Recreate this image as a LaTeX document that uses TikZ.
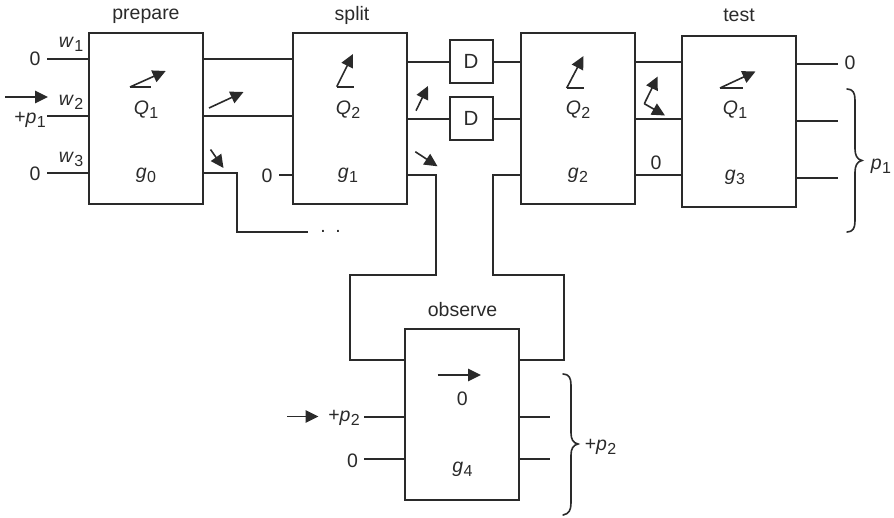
\documentclass[tikz,border=0pt]{standalone}
\usepackage{fontspec}
\setmainfont{Liberation Sans}
\usetikzlibrary{arrows.meta}
\newcommand{\symb}[2]{\textit{#1}\kern0.3pt\raisebox{-4pt}{\fontsize{16}{18}\selectfont #2}}
\definecolor{ink}{HTML}{2A2A2A}
\tikzset{
  x=1pt,y=-1pt,
  wire/.style={draw=ink,line width=2pt,line join=miter},
  block/.style={draw=ink,line width=2pt,fill=none,inner sep=0pt,minimum width=114pt,minimum height=171pt},
  delay/.style={draw=ink,line width=2pt,inner sep=0pt,minimum width=43pt,minimum height=43pt,text=ink,font=\fontsize{20.5}{22}\selectfont},
  lab/.style={inner sep=0pt,text=ink,font=\fontsize{19.5}{22}\selectfont},
  vec/.style={draw=ink,line width=1.6pt,-{Triangle[length=13pt,width=12.5pt]}},
  base/.style={draw=ink,line width=1.6pt},
  bracewire/.style={draw=ink,line width=1.6pt,line cap=round},
}
\begin{document}
\begin{tikzpicture}
\useasboundingbox (0,0) rectangle (894,517);
% blocks
\node[block] (prep) at (146,118.5) {};
\node[block] (spl) at (350,118.5) {};
\node[block] (b3) at (578,118.5) {};
\node[block] (tst) at (739,121) {};
\node[block] (obs) at (462,414.5) {};
\node[delay] (d1) at (471,61.5) {D};
\node[delay] (d2) at (471,118.5) {D};
% titles
\node[lab] (tprep) at (146,16) {prepare};
\node[lab] (tspl) at (352,15) {split};
\node[lab] (ttst) at (739,15) {test};
\node[lab] (tobs) at (462.5,310) {observe};
% block contents
\node[lab] (q1) at (146,110) {\symb{Q}{1}};
\node[lab] (g0) at (146,175) {\symb{g}{0}};
\node[lab] (q2) at (348,110) {\symb{Q}{2}};
\node[lab] (g1) at (348,175) {\symb{g}{1}};
\node[lab] (q2b) at (578,110) {\symb{Q}{2}};
\node[lab] (g2) at (578,175) {\symb{g}{2}};
\node[lab] (q1b) at (735,110) {\symb{Q}{1}};
\node[lab] (g3) at (735,177) {\symb{g}{3}};
\node[lab] (zobs) at (462.3,399) {0};
\node[lab] (g4) at (462.5,469) {\symb{g}{4}};
% outer labels
\node[lab] (z1) at (35,59) {0};
\node[lab] (z2) at (35,173.5) {0};
\node[lab] (w1) at (71,44) {\symb{w}{1}};
\node[lab] (w2) at (71,102) {\symb{w}{2}};
\node[lab] (w3) at (71,159) {\symb{w}{3}};
\node[lab] (pp1) at (30,119.5) {+\symb{p}{1}};
\node[lab] (z3) at (267,176) {0};
\node[lab] (z4) at (656,163) {0};
\node[lab] (z5) at (850,63) {0};
\node[lab] (p1) at (881,166) {\symb{p}{1}};
\node[lab] (pp2) at (344,417.5) {+\symb{p}{2}};
\node[lab] (z6) at (352.5,461) {0};
\node[lab] (pp3) at (600.5,447) {+\symb{p}{2}};
\node[lab] (dots) at (330.5,231) {.\kern9.6pt.};
% free ends
\coordinate (c1) at (47,59); \coordinate (c2) at (47,116); \coordinate (c3) at (47,173);
\coordinate (p1a) at (89,59); \coordinate (p1b) at (89,116); \coordinate (p1c) at (89,173);
\coordinate (p2a) at (203,59); \coordinate (p2b) at (203,116); \coordinate (p2c) at (203,173);
\coordinate (s1a) at (293,59); \coordinate (s1b) at (293,116); \coordinate (s1c) at (293,175);
\coordinate (s2a) at (407,61.5); \coordinate (s2b) at (407,118.5); \coordinate (s2c) at (407,175);
\coordinate (b1a) at (521,61.5); \coordinate (b1b) at (521,118.5); \coordinate (b1c) at (521,175);
\coordinate (b2a) at (635,61.5); \coordinate (b2b) at (635,118.5); \coordinate (b2c) at (635,175);
\coordinate (t1a) at (682,61.5); \coordinate (t1b) at (682,118.5); \coordinate (t1c) at (682,175);
\coordinate (t2a) at (796,64); \coordinate (t2b) at (796,121); \coordinate (t2c) at (796,178);
\coordinate (e1) at (838,64); \coordinate (e2) at (838,121); \coordinate (e3) at (838,178);
\coordinate (f1) at (308,232); \coordinate (f2) at (279,175);
\coordinate (oL1) at (405,360); \coordinate (oR1) at (519,360);
\coordinate (oL2) at (405,417); \coordinate (oL3) at (405,459);
\coordinate (oR2) at (519,417); \coordinate (oR3) at (519,459);
\coordinate (g1a) at (364,417); \coordinate (g1b) at (364,459);
\coordinate (h1) at (550,417); \coordinate (h2) at (550,459);
% connectors
\draw[wire] (c1) -- (p1a); \draw[wire] (c2) -- (p1b); \draw[wire] (c3) -- (p1c);
\draw[wire] (p2a) -- (s1a); \draw[wire] (p2b) -- (s1b);
\draw[wire] (p2c) -- (237,173) -- (237,232) -- (f1);
\draw[wire] (f2) -- (s1c);
\draw[wire] (s2a) -- (d1.west); \draw[wire] (s2b) -- (d2.west);
\draw[wire] (d1.east) -- (b1a); \draw[wire] (d2.east) -- (b1b);
\draw[wire] (s2c) -- (435.5,175) -- (435.5,274.5) -- (350,274.5) -- (350,360) -- (oL1);
\draw[wire] (b1c) -- (492.5,175) -- (492.5,274.5) -- (564,274.5) -- (564,360) -- (oR1);
\draw[wire] (b2a) -- (t1a); \draw[wire] (b2b) -- (t1b); \draw[wire] (b2c) -- (t1c);
\draw[wire] (t2a) -- (e1); \draw[wire] (t2b) -- (e2); \draw[wire] (t2c) -- (e3);
\draw[wire] (g1a) -- (oL2); \draw[wire] (g1b) -- (oL3);
\draw[wire] (oR2) -- (h1); \draw[wire] (oR3) -- (h2);
% state arrows
\coordinate (a1) at (130,87); \draw[base] (a1) -- (151,87); \draw[vec] (a1) -- (165.7,71);
\coordinate (a2) at (336.7,86.7); \draw[base] (a2) -- (354.3,86.7); \draw[vec] (a2) -- (353,54);
\coordinate (a3) at (566.7,88); \draw[base] (a3) -- (584,88); \draw[vec] (a3) -- (583.5,56);
\coordinate (a4) at (720,88); \draw[base] (a4) -- (743,88); \draw[vec] (a4) -- (755.5,71.5);
\coordinate (a5) at (644.3,103.7); \draw[vec] (a5) -- (657.7,76.5); \draw[vec] (a5) -- (665,115.5);
\coordinate (a6a) at (209,108); \coordinate (a6b) at (243.5,92); \draw[vec] (a6a) -- (a6b);
\coordinate (a7a) at (210.5,149.5); \coordinate (a7b) at (223.5,168); \draw[vec] (a7a) -- (a7b);
\coordinate (a8a) at (416,110.7); \coordinate (a8b) at (428,86); \draw[vec] (a8a) -- (a8b);
\coordinate (a9a) at (415.3,151.7); \coordinate (a9b) at (437.5,166.3); \draw[vec] (a9a) -- (a9b);
\coordinate (a10a) at (437.7,375); \coordinate (a10b) at (481,375); \draw[vec] (a10a) -- (a10b);
\coordinate (a11a) at (5,97); \coordinate (a11b) at (48,97); \draw[vec] (a11a) -- (a11b);
\coordinate (a12a) at (287,416.5); \coordinate (a12b) at (318.5,416.5); \draw[vec] (a12a) -- (a12b);
% braces
\draw[bracewire] (847,89) .. controls (853,89) and (855,93) .. (855,100) -- (855,149)
  .. controls (855,155) and (857,159.5) .. (862,160.5)
  .. controls (857,161.5) and (855,166) .. (855,172) -- (855,221)
  .. controls (855,228) and (853,232) .. (847,232);
\draw[bracewire] (563,374) .. controls (569,374) and (571,378) .. (571,385) -- (571,433)
  .. controls (571,439) and (573,443) .. (578,444)
  .. controls (573,445) and (571,449) .. (571,455) -- (571,503)
  .. controls (571,510) and (569,514) .. (563,515);
\end{tikzpicture}
\end{document}
